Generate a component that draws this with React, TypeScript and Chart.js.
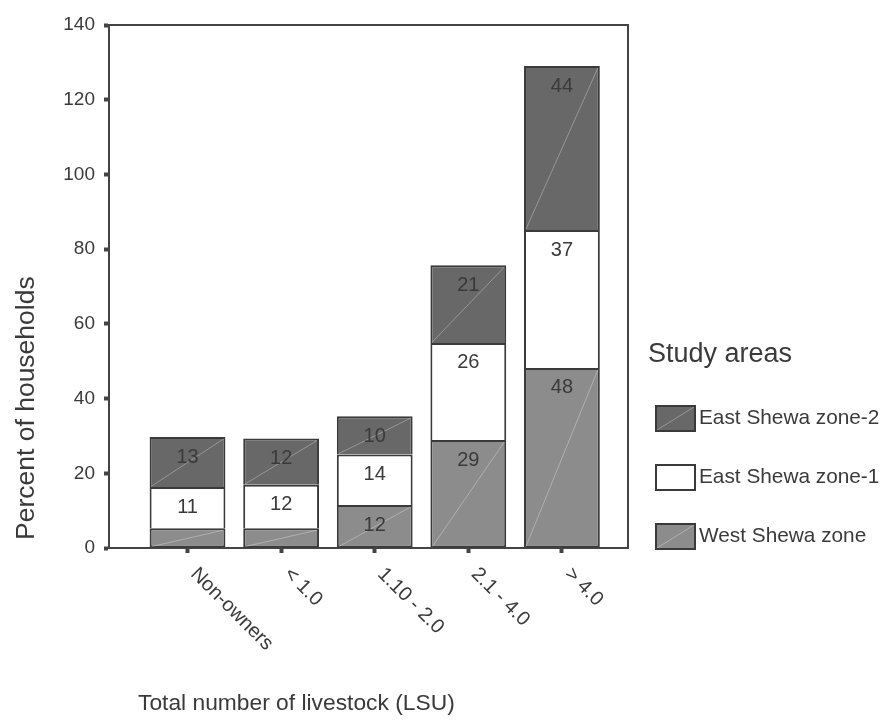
import React, { useEffect, useRef } from 'react';
import { Chart, registerables } from 'chart.js';

Chart.register(...registerables);

const categories = ['Non-owners', '< 1.0', '1.10 - 2.0', '2.1 - 4.0', '> 4.0'];
const westShewa = [5.3, 5.3, 11.5, 28.9, 48.2];
const eastShewa1 = [11, 11.6, 13.5, 26, 36.9];
const eastShewa2 = [13.4, 12.4, 10.3, 20.8, 43.9];
const seriesNames = ['West Shewa zone', 'East Shewa zone-1', 'East Shewa zone-2'];
const seriesColors = ['#8c8c8c', '#ffffff', '#686868'];
const yTickValues = [0, 20, 40, 60, 80, 100, 120, 140];
const yTitle = 'Percent of households';
const xTitle = 'Total number of livestock (LSU)';
const legendTitle = 'Study areas';

const FONT = '"Liberation Sans", Arial, Helvetica, sans-serif';
const INK = '#3a3a3a';
const LINE = '#444444';

const decorPlugin = {
  id: 'decor',
  afterDatasetsDraw(chart: any) {
    const ctx = chart.ctx;
    ctx.save();
    chart.data.datasets.forEach((ds: any, di: number) => {
      const meta = chart.getDatasetMeta(di);
      meta.data.forEach((el: any, i: number) => {
        const p = el.getProps(['x', 'y', 'base', 'width'], true);
        const left = p.x - p.width / 2;
        const right = p.x + p.width / 2;
        if (ds.backgroundColor !== '#ffffff') {
          ctx.strokeStyle = 'rgba(255,255,255,0.3)';
          ctx.lineWidth = 1;
          ctx.beginPath();
          ctx.moveTo(left + 2, p.base - 1);
          ctx.lineTo(right - 2, p.y + 2);
          ctx.stroke();
        }
        const v = ds.data[i].y;
        if (v >= 8) {
          ctx.fillStyle = INK;
          ctx.font = `20px ${FONT}`;
          ctx.textAlign = 'center';
          ctx.textBaseline = 'middle';
          ctx.fillText(String(Math.round(v)), p.x, p.y + 20);
        }
      });
    });
    ctx.restore();
  },
  afterDraw(chart: any) {
    const ctx = chart.ctx;
    const a = chart.chartArea;
    ctx.save();
    // frame top + right
    ctx.strokeStyle = LINE;
    ctx.lineWidth = 2;
    ctx.beginPath();
    ctx.moveTo(a.left, a.top);
    ctx.lineTo(a.right, a.top);
    ctx.lineTo(a.right, a.bottom);
    ctx.stroke();

    // y title
    ctx.fillStyle = INK;
    ctx.textAlign = 'left';
    ctx.textBaseline = 'middle';
    ctx.font = `26.5px ${FONT}`;
    ctx.save();
    ctx.translate(a.left - 82, a.bottom - 8);
    ctx.rotate(-Math.PI / 2);
    ctx.fillText(yTitle, 0, 0);
    ctx.restore();

    // rotated category labels
    const xs = chart.scales.x;
    ctx.font = `20px ${FONT}`;
    categories.forEach((c, i) => {
      const px = xs.getPixelForValue(i);
      ctx.save();
      ctx.translate(px + 6, a.bottom + 23);
      ctx.rotate(Math.PI / 4);
      ctx.fillText(c, 0, 0);
      ctx.restore();
    });

    // x title
    ctx.font = `22.8px ${FONT}`;
    ctx.fillText(xTitle, a.left + 29, a.bottom + 156);

    // legend
    ctx.font = `27px ${FONT}`;
    ctx.fillText(legendTitle, a.right + 20, a.bottom - 193);
    const order = [2, 1, 0];
    order.forEach((di, k) => {
      const ds = chart.data.datasets[di];
      const bx = a.right + 27;
      const by = a.bottom - 143 + k * 59;
      const bw = 41;
      const bh = 27;
      ctx.fillStyle = ds.backgroundColor;
      ctx.fillRect(bx, by, bw, bh);
      if (ds.backgroundColor !== '#ffffff') {
        ctx.strokeStyle = 'rgba(255,255,255,0.3)';
        ctx.lineWidth = 1;
        ctx.beginPath();
        ctx.moveTo(bx + 2, by + bh - 2);
        ctx.lineTo(bx + bw - 2, by + 2);
        ctx.stroke();
      }
      ctx.strokeStyle = INK;
      ctx.lineWidth = 2;
      ctx.strokeRect(bx + 1, by + 1, bw - 2, bh - 2);
      ctx.fillStyle = INK;
      ctx.font = `20.8px ${FONT}`;
      ctx.fillText(ds.label, bx + bw + 3, by + bh / 2);
    });
    ctx.restore();
  },
};

export default function App() {
  const ref = useRef<HTMLCanvasElement | null>(null);
  useEffect(() => {
    if (!ref.current) return;
    Chart.defaults.font.family = FONT;
    const seriesData = [westShewa, eastShewa1, eastShewa2];
    const chart = new Chart(ref.current, {
      type: 'bar',
      data: {
        datasets: seriesData.map((arr, di) => ({
          label: seriesNames[di],
          data: arr.map((v, i) => ({ x: i, y: v })),
          backgroundColor: seriesColors[di],
          borderColor: INK,
          borderWidth: { top: 2, left: 2, right: 2, bottom: di === 0 ? 2 : 0 },
          borderSkipped: false,
          barPercentage: 0.81,
          categoryPercentage: 1,
        })),
      },
      options: {
        responsive: false,
        animation: false,
        layout: { padding: { left: 0, right: 254, top: 25, bottom: 0 } },
        plugins: { legend: { display: false }, tooltip: { enabled: false } },
        scales: {
          x: {
            type: 'linear',
            stacked: true,
            min: -0.839,
            max: 4.706,
            offset: false,
            afterBuildTicks: (scale: any) => {
              scale.ticks = categories.map((_, i) => ({ value: i }));
            },
            afterFit: (scale: any) => {
              scale.height = 172;
            },
            ticks: { display: false },
            grid: {
              display: true,
              offset: false,
              drawOnChartArea: false,
              drawTicks: true,
              tickLength: 5,
              tickWidth: 4,
              tickColor: LINE,
            },
            border: { display: true, color: LINE, width: 2 },
          },
          y: {
            stacked: true,
            min: 0,
            max: 140,
            afterBuildTicks: (scale: any) => {
              scale.ticks = yTickValues.map((v) => ({ value: v }));
            },
            afterFit: (scale: any) => {
              scale.width = 109;
            },
            ticks: { color: INK, font: { size: 19 }, padding: 9 },
            grid: {
              display: true,
              drawOnChartArea: false,
              drawTicks: true,
              tickLength: 5,
              tickWidth: 4,
              tickColor: LINE,
            },
            border: { display: true, color: LINE, width: 2 },
          },
        },
      },
      plugins: [decorPlugin],
    } as any);
    return () => chart.destroy();
  }, []);
  return (
    <div style={{ position: 'absolute', left: 0, top: 0, width: 882, height: 720 }}>
      <canvas ref={ref} width={882} height={720} />
    </div>
  );
}
